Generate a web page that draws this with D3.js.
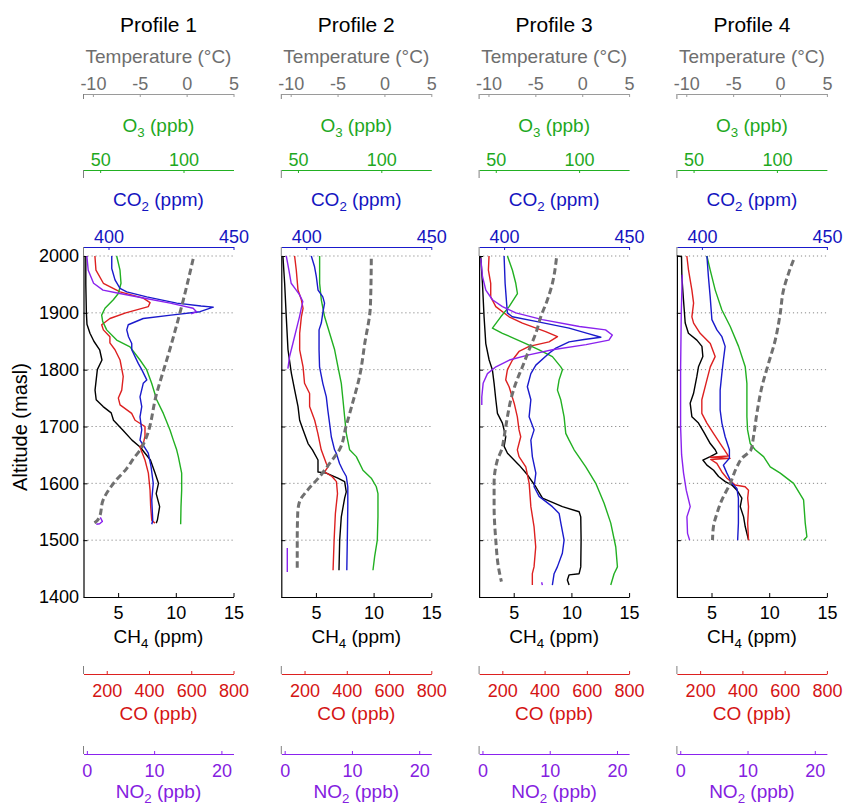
<!DOCTYPE html>
<html>
<head>
<meta charset="utf-8">
<script src="https://cdn.jsdelivr.net/npm/d3@7"></script>
<style>
  body { margin: 0; background: #fff; }
  svg { display: block; }
</style>
</head>
<body>
<svg id="chart" width="847" height="806"></svg>
<script>
// ---- labels and ticks ----
const profileNames = ["Profile 1", "Profile 2", "Profile 3", "Profile 4"];
const altTicks = [1400, 1500, 1600, 1700, 1800, 1900, 2000];
const gridAlts = [1500, 1600, 1700, 1800, 1900, 2000];
const tempTicks = [-10, -5, 0, 5];
const o3Ticks = [50, 100];
const co2Ticks = [400, 450];
const ch4Ticks = [5, 10, 15];
const coTicks = [200, 400, 600, 800];
const no2Ticks = [0, 10, 20];

// ---- profile data: [altitude (masl), value]; null value = gap ----
// Profile 1
const tempP1 = [[1995,0.7],[1923,-0.35],[1835,-1.8],[1758,-3.2],[1673,-4.5],[1660,-4.9],[1645,-5.6],[1626,-6.4],[1600,-7.8],[1571,-8.9],[1541,-9.3],[1532,-9.7],[1528,-10.1]];
const ch4P1 = [[2000,2.2],[1950,2.2],[1900,2.25],[1880,2.3],[1864,2.56],[1850,2.9],[1835,3.4],[1817,3.6],[1800,3.2],[1764,3.0],[1747,3.1],[1735,3.7],[1724,4.4],[1711,4.6],[1694,5.4],[1676,6.2],[1664,6.9],[1641,7.8],[1618,8.2],[1600,8.5],[1582,8.3],[1559,8.6],[1535,8.4],[1530,8.3]];
const coP1 = [[2000,144],[1975,149],[1952,184],[1937,263],[1926,373],[1918,405],[1911,397],[1900,290],[1890,215],[1879,176],[1870,184],[1858,215],[1847,215],[1835,239],[1817,263],[1788,278],[1764,271],[1750,255],[1738,263],[1723,318],[1711,334],[1700,381],[1683,381],[1670,373],[1664,357],[1641,381],[1618,397],[1588,405],[1559,408],[1535,413],[1530,428]];
const co2P1 = [[2000,401.3],[1978,401.3],[1958,402.6],[1943,404.6],[1937,407.3],[1928,415.3],[1917,427.3],[1912,437],[1910,441.9],[1902,436.6],[1896,425],[1890,413.9],[1879,407.9],[1870,407.3],[1858,408],[1846,409.3],[1835,409.3],[1811,411.9],[1800,413.3],[1782,415.3],[1776,413.9],[1752,412.6],[1735,413.3],[1717,412.6],[1694,413.3],[1676,412.6],[1653,415.9],[1630,417],[1600,417.9],[1571,417.3],[1535,417.7],[1528,417.3]];
const o3P1 = [[2000,59.9],[1975,61.9],[1952,62.5],[1934,60.9],[1923,57.9],[1908,52.9],[1896,50.9],[1885,51.5],[1870,53.9],[1852,59.9],[1840,67.9],[1817,73.9],[1800,77.9],[1776,80.9],[1747,83.9],[1723,87.9],[1694,91.9],[1676,93.9],[1659,95.9],[1647,96.9],[1618,98.9],[1588,98.9],[1559,98.5],[1528,98.3]];
const no2P1 = [[2000,0],[1975,0.2],[1952,1.0],[1940,2.4],[1934,4.9],[1926,8.4],[1917,12.4],[1908,15.8],[1902,16.3],[1898,15.5],[1897,null],[1540,2.0],[1533,2.3],[1529,1.9],[1528,1.4]];

// Profile 2
const tempP2 = [[1995,-1.4],[1911,-1.5],[1846,-2.1],[1788,-2.65],[1741,-3.4],[1700,-4.1],[1659,-4.8],[1635,-5.85],[1612,-6.9],[1588,-8.2],[1568,-9.05],[1547,-9.25],[1500,-9.3],[1447,-9.3]];
const ch4P2 = [[2000,2.14],[1952,2.29],[1893,2.43],[1835,2.58],[1794,2.87],[1764,3.16],[1735,3.45],[1711,3.59],[1694,3.89],[1670,4.32],[1659,4.7],[1641,5.18],[1620,5.18],[1618,5.9],[1609,6.9],[1603,7.49],[1585,7.63],[1574,7.49],[1541,7.2],[1500,7.06],[1447,7.0]];
const coP2 = [[2000,153],[1975,161],[1940,169],[1923,185],[1908,193],[1893,185],[1864,177],[1835,177],[1805,193],[1776,200],[1758,224],[1735,224],[1711,248],[1688,263],[1659,279],[1635,303],[1629,311],[1620,295],[1612,330],[1603,351],[1582,356],[1547,346],[1500,340],[1447,335]];
const co2P2 = [[2000,402],[1981,403.3],[1964,404],[1940,404.7],[1928,406.6],[1917,407.3],[1900,406.6],[1882,406],[1870,405.1],[1835,405.1],[1805,405.3],[1776,406.6],[1752,408],[1729,408.6],[1706,409.3],[1682,410],[1659,411.3],[1653,412],[1635,413.3],[1623,414.6],[1612,416],[1594,416.6],[1559,416.6],[1500,416.4],[1447,416.2]];
const o3P2 = [[2000,63],[1952,63],[1923,64],[1893,66],[1864,69],[1835,72],[1805,74],[1776,76],[1747,77],[1717,78],[1688,79],[1659,81],[1647,85],[1623,89],[1609,94],[1594,97],[1582,98],[1541,98],[1500,97.6],[1471,96],[1447,95]];
const no2P2 = [[2000,0.24],[1975,0.63],[1952,0.97],[1940,1.72],[1932,2.2],[1920,2.7],[1908,2.47],[1893,2.2],[1870,1.72],[1846,1.22],[1823,0.73],[1802,0.48],[1800,null],[1486,0.39],[1444,0.39]];

// Profile 3
const tempP3 = [[1996,-2.75],[1952,-3.18],[1923,-3.71],[1893,-4.42],[1864,-4.95],[1835,-5.67],[1805,-6.38],[1776,-7.09],[1747,-7.62],[1717,-7.98],[1682,-8.33],[1659,-8.6],[1641,-9.05],[1600,-9.4],[1559,-9.4],[1500,-9.22],[1453,-8.94],[1427,-8.62]];
const ch4P3 = [[2000,2.14],[1952,2.29],[1893,2.43],[1846,2.58],[1817,2.87],[1800,3.15],[1776,3.3],[1747,3.45],[1723,3.59],[1706,4.02],[1682,4.31],[1665,4.17],[1653,4.46],[1632,5.47],[1615,6.19],[1594,6.91],[1574,7.49],[1559,9.22],[1550,10.67],[1541,10.81],[1500,10.84],[1453,10.81],[1441,10.67],[1439,9.8],[1430,9.65],[1421,9.8]];
const coP3 = [[2000,137],[1975,134],[1952,145],[1928,145],[1911,169],[1893,232],[1882,295],[1867,405],[1858,461],[1849,421],[1841,327],[1832,279],[1817,248],[1800,224],[1782,216],[1770,232],[1741,256],[1717,271],[1694,279],[1682,287],[1659,271],[1647,279],[1629,311],[1600,327],[1559,335],[1524,350],[1488,358],[1453,350],[1441,342],[1421,342]];
const co2P3 = [[2000,400],[1952,400.4],[1923,400.9],[1900,401.3],[1893,403.3],[1885,412.7],[1873,426],[1863,434],[1857,438.7],[1853,432],[1849,426],[1838,420.7],[1829,418],[1808,412.7],[1793,410.7],[1770,409.3],[1747,410.7],[1717,410],[1694,412],[1676,410.7],[1647,411.3],[1618,412.7],[1594,412],[1577,414],[1559,419.3],[1547,422],[1530,422.7],[1500,424],[1477,423.3],[1453,421.3],[1441,420],[1421,419.3]];
const o3P3 = [[2000,57],[1975,60],[1952,62],[1934,63],[1911,58],[1893,53],[1873,48],[1864,54],[1846,68],[1835,76],[1823,84],[1805,89],[1800,90],[1782,88],[1764,87],[1747,89],[1717,91],[1688,92],[1676,94],[1659,97],[1629,104],[1600,110],[1565,115],[1530,119],[1488,122],[1453,123],[1441,121],[1421,119]];
const no2P3 = [[1996,-0.25],[1964,0],[1940,0.5],[1923,1.48],[1911,2.97],[1900,4.96],[1888,8.9],[1876,14.4],[1870,18.3],[1861,19.3],[1852,18.8],[1844,15.4],[1835,10.4],[1826,6.9],[1817,4.0],[1805,2.0],[1793,0.74],[1776,0.1],[1752,-0.1],[1738,-0.1],[1737,null],[1426,8.8],[1421,8.9]];

// Profile 4
const tempP4 = [[1993,1.44],[1969,0.9],[1940,0.37],[1899,0.02],[1852,-0.51],[1811,-1.23],[1770,-1.93],[1723,-2.47],[1682,-2.83],[1659,-3.1],[1644,-4.07],[1629,-4.6],[1600,-5.31],[1571,-6.2],[1547,-6.73],[1524,-7.1],[1500,-7.2]];
const ch4P4 = [[2000,2.0],[1999,2.4],[1964,2.43],[1923,2.57],[1882,2.72],[1864,3.0],[1852,3.73],[1841,4.17],[1823,4.25],[1805,3.87],[1788,3.73],[1758,3.44],[1741,3.15],[1717,3.3],[1706,3.87],[1691,4.31],[1670,4.89],[1659,5.32],[1653,5.47],[1647,4.89],[1641,4.25],[1632,4.6],[1623,5.18],[1612,5.61],[1603,6.19],[1597,6.77],[1588,7.2],[1574,7.63],[1559,7.49],[1541,7.78],[1524,7.92],[1500,8.21]];
const coP4 = [[2000,137],[1975,145],[1940,161],[1917,169],[1893,161],[1882,169],[1864,200],[1846,248],[1823,271],[1805,248],[1782,232],[1747,208],[1723,208],[1706,232],[1688,263],[1670,295],[1659,315],[1648,334],[1646,248],[1644,342],[1642,250],[1635,279],[1620,303],[1609,327],[1597,366],[1594,413],[1588,429],[1574,425],[1559,429],[1530,425],[1500,429]];
const co2P4 = [[2000,402],[1964,402.6],[1929,403.3],[1888,404],[1870,406],[1858,408],[1841,409.3],[1817,408.6],[1794,408],[1764,407.3],[1729,407.3],[1706,408],[1682,409.3],[1659,411],[1644,411],[1632,408.6],[1618,410],[1600,412],[1591,414],[1574,414.6],[1530,414.6],[1500,414.3]];
const o3P4 = [[2000,58],[1975,60],[1940,63],[1905,67],[1876,72],[1841,77],[1805,81],[1776,82],[1717,82],[1694,82.4],[1670,84],[1659,87],[1647,92],[1629,96],[1618,102],[1600,110],[1571,116],[1530,117],[1506,118],[1500,116]];
const no2P4 = [[1967,0.3],[1900,0.15],[1800,0.05],[1700,0.05],[1650,0.2],[1618,0.49],[1588,0.89],[1559,1.48],[1541,0.99],[1512,1.08],[1500,1.39]];

// ---- layout ----
const FONT = '"Liberation Sans", Arial, Helvetica, sans-serif';
const panelW = 150, panelX0 = 83.5, panelDX = 197.8;
const yAlt = d3.scaleLinear().domain([1400, 2000]).range([597, 256]);

const species = {
  temp: { domain: [-11, 5],     text: "#6e6e6e", line: "#9a9a9a" },
  o3:   { domain: [40, 130],    text: "#1ea81e", line: "#22b022" },
  co2:  { domain: [390, 450],   text: "#1414c0", line: "#1a1acc" },
  ch4:  { domain: [2, 15],      text: "#000000", line: "#000000" },
  co:   { domain: [90, 800],    text: "#d41414", line: "#dd2020" },
  no2:  { domain: [-0.5, 21.8], text: "#8420e0", line: "#8a22ee" }
};

const panels = [
  { temp: tempP1, ch4: ch4P1, co: coP1, co2: co2P1, o3: o3P1, no2: no2P1 },
  { temp: tempP2, ch4: ch4P2, co: coP2, co2: co2P2, o3: o3P2, no2: no2P2 },
  { temp: tempP3, ch4: ch4P3, co: coP3, co2: co2P3, o3: o3P3, no2: no2P3 },
  { temp: tempP4, ch4: ch4P4, co: coP4, co2: co2P4, o3: o3P4, no2: no2P4 }
];

const svg = d3.select("#chart").attr("font-family", FONT);

function label(g, x, y, parts, color, size) {
  const t = g.append("text").attr("x", x).attr("y", y)
    .attr("text-anchor", "middle").attr("fill", color)
    .attr("font-size", size);
  parts.forEach(p => {
    if (p.sub) {
      t.append("tspan").attr("font-size", size * 0.7).attr("dy", 5).text(p.s);
    } else {
      t.append("tspan").attr("dy", p.after ? -5 : 0).text(p.s);
    }
  });
  return t;
}

function styleAxis(a, sp, fs) {
  a.attr("font-family", FONT).attr("font-size", fs);
  a.select(".domain").attr("stroke", sp.line).attr("stroke-width", 1);
  a.selectAll(".tick line").attr("stroke", sp.line);
  a.selectAll(".tick text").attr("fill", sp.text);
}

profileNames.forEach((name, i) => {
  const x0 = panelX0 + i * panelDX;
  const g = svg.append("g");
  const xs = {};
  Object.keys(species).forEach(k => {
    xs[k] = d3.scaleLinear().domain(species[k].domain).range([x0, x0 + panelW]);
  });
  const cx = x0 + panelW / 2;

  // panel title
  g.append("text").attr("x", cx).attr("y", 31.5).attr("text-anchor", "middle")
    .attr("font-size", 21).attr("fill", "#000").text(name);

  // top axes: temperature, O3, CO2
  const topAxes = [
    { k: "temp", ticks: tempTicks, y: 94,  stub: 5, titleY: 62.5,
      parts: [{ s: "Temperature (°C)" }] },
    { k: "o3",   ticks: o3Ticks,   y: 170, stub: 8, titleY: 131.5,
      parts: [{ s: "O" }, { s: "3", sub: true }, { s: " (ppb)", after: true }] },
    { k: "co2",  ticks: co2Ticks,  y: 247, stub: 9, titleY: 206,
      parts: [{ s: "CO" }, { s: "2", sub: true }, { s: " (ppm)", after: true }] }
  ];
  topAxes.forEach(ax => {
    const sp = species[ax.k];
    const a = g.append("g").attr("transform", `translate(0,${ax.y})`)
      .call(d3.axisTop(xs[ax.k]).tickValues(ax.ticks).tickSizeInner(-3)
        .tickSizeOuter(0).tickPadding(4.5).tickFormat(d => String(d)));
    styleAxis(a, sp, 18);
    g.append("line").attr("x1", x0).attr("x2", x0)
      .attr("y1", ax.y).attr("y2", ax.y + ax.stub)
      .attr("stroke", "#808080").attr("stroke-width", 1);
    label(g, cx, ax.titleY, ax.parts, sp.text, 19);
  });

  // horizontal dotted grid
  g.append("g").selectAll("line").data(gridAlts).join("line")
    .attr("x1", x0).attr("x2", x0 + panelW)
    .attr("y1", d => yAlt(d)).attr("y2", d => yAlt(d))
    .attr("stroke", "#8a8a8a").attr("stroke-width", 1)
    .attr("stroke-dasharray", "1.2,2.8");

  // altitude axis
  const ya = g.append("g").attr("transform", `translate(${x0},0)`)
    .call(d3.axisLeft(yAlt).tickValues(altTicks).tickSizeInner(-4)
      .tickSizeOuter(0).tickPadding(4.5)
      .tickFormat(d => i === 0 ? String(d) : ""));
  ya.attr("font-family", FONT).attr("font-size", 18);
  ya.select(".domain").attr("stroke", "#000").attr("stroke-width", 1.2);
  ya.selectAll(".tick text").attr("fill", "#000");

  // CH4 bottom axis
  const cha = g.append("g").attr("transform", `translate(0,${yAlt(1400)})`)
    .call(d3.axisBottom(xs.ch4).tickValues(ch4Ticks).tickSizeInner(-4)
      .tickSizeOuter(0).tickPadding(9).tickFormat(d => String(d)));
  styleAxis(cha, species.ch4, 18);
  cha.select(".domain").attr("stroke-width", 1.2);
  label(g, cx, 642.5, [{ s: "CH" }, { s: "4", sub: true }, { s: " (ppm)", after: true }], "#000", 19);

  // CO and NO2 lower axes
  const lowAxes = [
    { k: "co",  ticks: coTicks,  y: 674, titleY: 719.5, parts: [{ s: "CO (ppb)" }] },
    { k: "no2", ticks: no2Ticks, y: 754, titleY: 798,
      parts: [{ s: "NO" }, { s: "2", sub: true }, { s: " (ppb)", after: true }] }
  ];
  lowAxes.forEach(ax => {
    const sp = species[ax.k];
    const a = g.append("g").attr("transform", `translate(0,${ax.y})`)
      .call(d3.axisBottom(xs[ax.k]).tickValues(ax.ticks).tickSizeInner(-3)
        .tickSizeOuter(0).tickPadding(10).tickFormat(d => String(d)));
    styleAxis(a, sp, 18);
    g.append("line").attr("x1", x0).attr("x2", x0)
      .attr("y1", ax.y).attr("y2", ax.y - 8)
      .attr("stroke", "#808080").attr("stroke-width", 1);
    label(g, cx, ax.titleY, ax.parts, sp.text, 19);
  });

  // profile lines
  const p = panels[i];
  const order = ["ch4", "co", "o3", "co2", "no2"];
  order.forEach(k => {
    const line = d3.line().defined(d => d[1] !== null)
      .x(d => xs[k](d[1])).y(d => yAlt(d[0]));
    g.append("path").datum(p[k]).attr("d", line)
      .attr("fill", "none").attr("stroke", species[k].line)
      .attr("stroke-width", 1.4).attr("stroke-linejoin", "round");
  });
  const tline = d3.line().x(d => xs.temp(d[1])).y(d => yAlt(d[0]))
    .curve(d3.curveMonotoneY);
  g.append("path").datum(p.temp).attr("d", tline)
    .attr("fill", "none").attr("stroke", "#707070")
    .attr("stroke-width", 3).attr("stroke-dasharray", "6.5,3.5");
});

// shared y-axis title
svg.append("text").attr("transform", "translate(27,427) rotate(-90)")
  .attr("text-anchor", "middle").attr("font-size", 20).attr("fill", "#000")
  .text("Altitude (masl)");
</script>
</body>
</html>
